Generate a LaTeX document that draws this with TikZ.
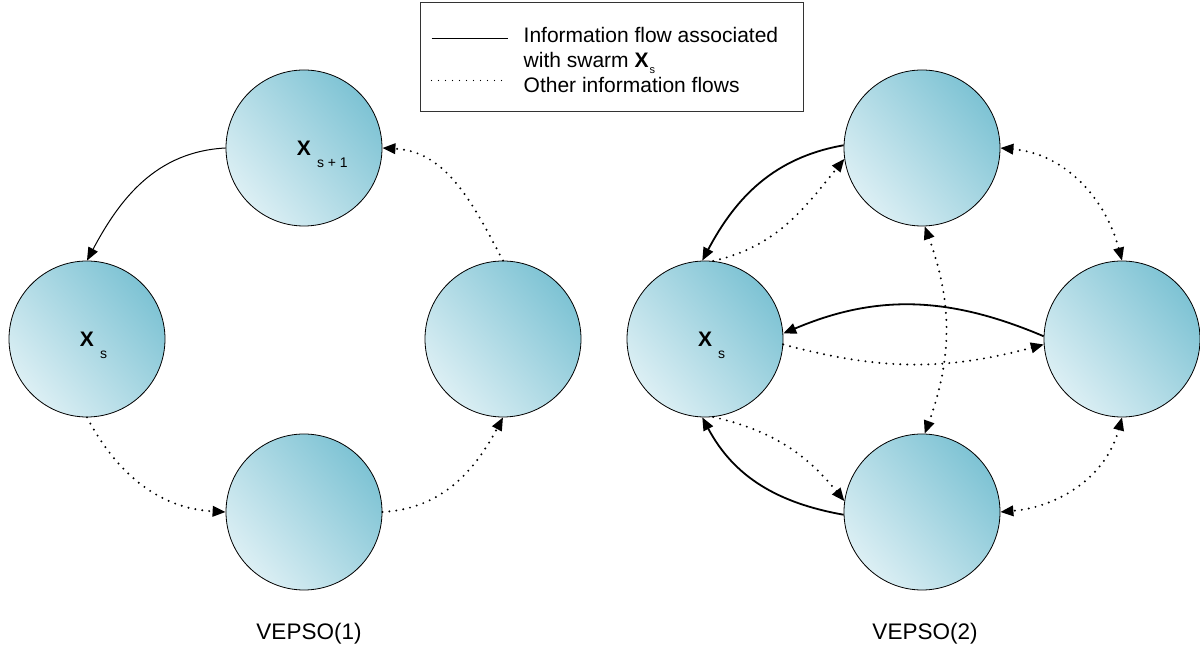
\documentclass[tikz,border=0pt]{standalone}
\usepackage{fontspec}
\setmainfont{Liberation Sans}
\usepackage{tikz}
\usetikzlibrary{arrows.meta}

\definecolor{swdark}{HTML}{7EC3D4}
\definecolor{swlight}{HTML}{DCEFF4}

\newcommand{\swarmlabel}[1]{\textbf{X}\rlap{\hspace{6pt}\raisebox{-12pt}[0pt][0pt]{\fontsize{14}{14}\selectfont #1}}}

\begin{document}
\begin{tikzpicture}[x=1pt,y=1pt,>={Triangle[length=13pt,width=10.5pt]},
  swarm/.style={circle,draw,line width=0.8pt,minimum size=156pt,inner sep=0pt,
    top color=swdark,bottom color=swlight,shading angle=-50,
    font=\fontsize{21}{25}\selectfont},
  flow/.style={->,line width=1.8pt},
  thinflow/.style={->,line width=1pt},
  other/.style={line width=2.2pt,line cap=round,dash pattern=on 0pt off 7pt},
  txt/.style={inner sep=0pt,font=\fontsize{21}{25}\selectfont}]
\useasboundingbox (0,0) rectangle (1200,648);

% VEPSO(1)
\node [swarm] (top1) at (304,500) {\swarmlabel{s + 1}};
\node [swarm] (xs1) at (87,309) {\swarmlabel{s}};
\node [swarm] (right1) at (503,309) {};
\node [swarm] (bot1) at (304,136) {};
\node [txt,anchor=base,font=\fontsize{22.5}{26}\selectfont] (name1) at (309,8) {VEPSO(1)};

\draw [thinflow] (top1.west) to[out=183,in=62] (xs1.north);
\draw [other,->] (xs1.south) to[out=-62,in=177] (bot1.west);
\draw [other,->] (bot1.east) to[out=3,in=-118] (right1.south);
\draw [other,->] (right1.north) to[out=118,in=-3] (top1.east);

% VEPSO(2)
\node [swarm] (top2) at (922,500) {};
\node [swarm] (xs2) at (705,309) {\swarmlabel{s}};
\node [swarm] (right2) at (1122,309) {};
\node [swarm] (bot2) at (922,136) {};
\node [txt,anchor=base,font=\fontsize{22.5}{26}\selectfont] (name2) at (925,8) {VEPSO(2)};

\draw [flow] (top2.178) to[out=190,in=62] (xs2.92);
\draw [other,->] (xs2.84) to[out=13,in=231] (top2.188);
\draw [flow] (right2.178) to[out=157,in=23] (xs2.4);
\draw [other,->] (xs2.-4) to[out=-15,in=195] (right2.184);
\draw [flow] (bot2.182) to[out=170,in=-62] (xs2.-92);
\draw [other,->] (xs2.-84) to[out=-13,in=129] (bot2.172);
\draw [other,<->] (top2.-88) to[out=-70,in=70] (bot2.88);
\draw [other,<->] (top2.east) to[out=-5,in=105] (right2.north);
\draw [other,<->] (right2.south) to[out=-105,in=5] (bot2.east);

% legende
\node [draw=black!80,line width=1pt,minimum width=383pt,minimum height=109pt,
  inner sep=0pt] (legend) at (611.5,590.5) {};
\coordinate (solidA) at ([xshift=12pt,yshift=-36pt]legend.north west);
\coordinate (solidB) at ([xshift=88pt,yshift=-36pt]legend.north west);
\coordinate (dotA) at ([xshift=12pt,yshift=-78pt]legend.north west);
\coordinate (dotB) at ([xshift=88pt,yshift=-78pt]legend.north west);
\draw [line width=1.6pt] (solidA) -- (solidB);
\draw [line width=1.3pt,line cap=round,dash pattern=on 0pt off 7pt] (dotA) -- (dotB);
\node [txt,anchor=base west] (lg1) at ([xshift=104pt,yshift=-40pt]legend.north west)
  {Information flow associated};
\node [txt,anchor=base west] (lg2) at ([yshift=-25pt]lg1.base west)
  {with swarm \textbf{X}\hspace{1pt}\raisebox{-6pt}{\fontsize{11}{11}\selectfont s}};
\node [txt,anchor=base west] (lg3) at ([yshift=-25pt]lg2.base west)
  {Other information flows};
\end{tikzpicture}
\end{document}
